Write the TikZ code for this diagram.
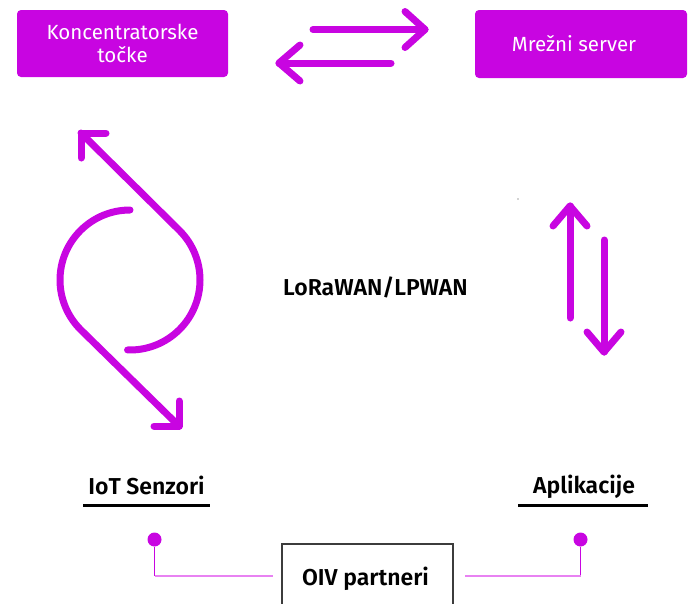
\documentclass[tikz,border=0pt]{standalone}
\usepackage{fontspec}
\setmainfont{Fira Sans}
\newfontfamily\semib{Fira Sans SemiBold}
\usetikzlibrary{calc}
\definecolor{mag}{RGB}{200,5,225}
\definecolor{lmag}{RGB}{232,130,242}
\definecolor{boxgray}{RGB}{60,60,60}
\begin{document}
\begin{tikzpicture}[x=1pt,y=1pt,
  boxnode/.style={fill=mag, rounded corners=4pt, text=white, font=\fontsize{20.5}{23.5}\selectfont, align=center, inner sep=0pt},
  arr/.style={draw=mag, line width=7pt, line cap=round, line join=round},
  lbl/.style={font=\semib\fontsize{23}{27}\selectfont, text=black, inner sep=0pt, anchor=base},
  uline/.style={draw=black, line width=2.5pt},
  dotnode/.style={circle, fill=mag, inner sep=0pt, minimum size=14pt},
  thinv/.style={draw=mag, line width=1.2pt},
  thinh/.style={draw=lmag, line width=2pt},
  oivbox/.style={draw=boxgray, line width=1.3pt, fill=white}]
\useasboundingbox (0,0) rectangle (688,-603);
% top boxes
\node[boxnode, minimum width=211pt, minimum height=67pt] (konc) at (122.5,-43.5) {Koncentratorske\\točke};
\node[boxnode, minimum width=212pt, minimum height=68pt] (srv) at (581,-44) {Mrežni server\hspace*{14pt}};
% top arrows
\coordinate (a1s) at (313,-29.5);
\coordinate (a1t) at (425,-29.5);
\coordinate (a2s) at (391,-63);
\coordinate (a2t) at (279,-63);
\draw[arr] (a1s) -- (a1t);
\draw[arr] ($(a1t)+(-20,18)$) -- (a1t) -- ($(a1t)+(-20,-18)$);
\draw[arr] (a2s) -- (a2t);
\draw[arr] ($(a2t)+(21,18)$) -- (a2t) -- ($(a2t)+(21,-18)$);
% left cycle arrows
\coordinate (lt) at (81,-133);
\coordinate (lb) at (179,-426);
\coordinate (cc) at (130,-280);
\draw[arr] (lt) -- ($(cc)+(45:70)$) arc[start angle=45, end angle=-92, radius=70];
\draw[arr] ($(cc)+(90:70)$) arc[start angle=90, end angle=225, radius=70] -- (lb);
\draw[arr] ($(lt)+(25,0)$) -- (lt) -- ($(lt)+(0,-25)$);
\draw[arr] ($(lb)+(0,25)$) -- (lb) -- ($(lb)+(-25,0)$);
% right arrows
\coordinate (rus) at (570,-318);
\coordinate (rut) at (570,-206);
\coordinate (rds) at (604,-240);
\coordinate (rdt) at (604,-352);
\draw[arr] (rus) -- (rut);
\draw[arr] ($(rut)+(-17,-20)$) -- (rut) -- ($(rut)+(17,-20)$);
\draw[arr] (rds) -- (rdt);
\draw[arr] ($(rdt)+(-17,20)$) -- (rdt) -- ($(rdt)+(17,20)$);
\fill[gray!70] (518,-199) circle (0.9pt);
% center label
\node[lbl] (lora) at (375.5,-295) {LoRaWAN/LPWAN};
% bottom labels
\node[lbl] (iot) at (146.5,-494) {IoT Senzori};
\node[lbl] (apl) at (584,-493) {Aplikacije};
\coordinate (u1a) at (83,-505.5);
\coordinate (u1b) at (210,-505.5);
\coordinate (u2a) at (518,-505.5);
\coordinate (u2b) at (648,-505.5);
\draw[uline] (u1a) -- (u1b);
\draw[uline] (u2a) -- (u2b);
% OIV box
\draw[oivbox] (282,-610) rectangle (453,-544);
\node[lbl] (oiv) at (365.5,-585) {OIV partneri};
% dots and connectors
\node[dotnode] (d1) at (154.5,-539.5) {};
\node[dotnode] (d2) at (580.5,-539.5) {};
\coordinate (c1) at (154.5,-575.5);
\coordinate (c1e) at (273,-575.5);
\coordinate (c2) at (580.5,-575.5);
\coordinate (c2e) at (465,-575.5);
\draw[thinv] (d1) -- (c1);
\draw[thinh] (c1) -- (c1e);
\draw[thinv] (d2) -- (c2);
\draw[thinh] (c2) -- (c2e);
\end{tikzpicture}
\end{document}
